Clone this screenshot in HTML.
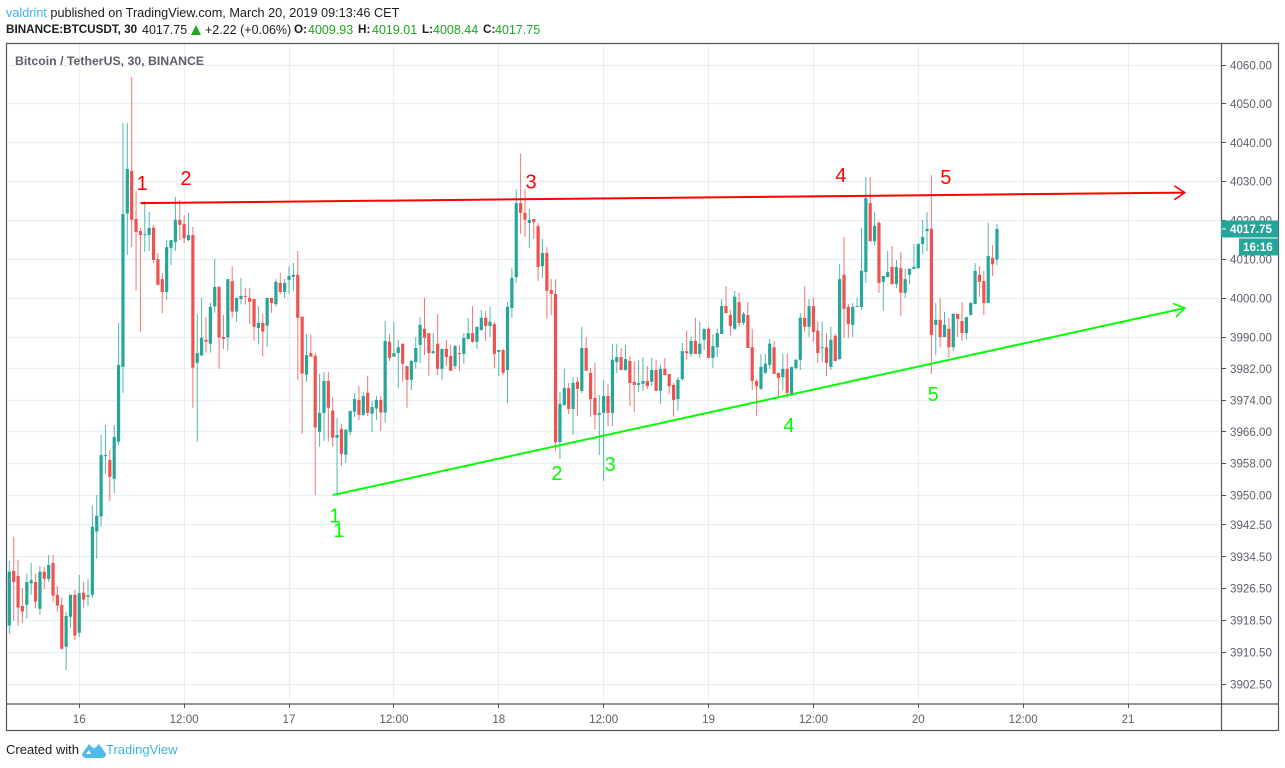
<!DOCTYPE html>
<html lang="en">
<head>
<meta charset="utf-8">
<title>BTCUSDT chart</title>
<style>
html,body{margin:0;padding:0;background:#fff;width:1285px;height:768px;overflow:hidden;font-family:"Liberation Sans",sans-serif}
.t{position:absolute;white-space:nowrap;font-size:12.5px;line-height:16px;color:#1c1c1c}
.b{font-weight:bold;font-size:11.7px}
.g{color:#1fa51f}
svg{position:absolute;left:0;top:0}
</style>
</head>
<body>
<svg id="chart" width="1285" height="768" viewBox="0 0 1285 768" xmlns="http://www.w3.org/2000/svg"></svg>

<div class="t" style="left:6px;top:5px;font-size:12.7px"><span style="color:#3bb3e4">valdrint</span> published on TradingView.com, March 20, 2019 09:13:46 CET</div>
<div class="t b" style="left:6px;top:21.5px">BINANCE:BTCUSDT, 30</div>
<div class="t" style="left:142px;top:21.5px">4017.75</div>
<div style="position:absolute;left:191px;top:24.5px;width:0;height:0;border-left:5.5px solid transparent;border-right:5.5px solid transparent;border-bottom:10px solid #1fa51f"></div>
<div class="t" style="left:205px;top:21.5px">+2.22 (+0.06%)</div>
<div class="t b" style="left:294px;top:21.5px">O:</div>
<div class="t g" style="left:308px;top:21.5px">4009.93</div>
<div class="t b" style="left:358px;top:21.5px">H:</div>
<div class="t g" style="left:372px;top:21.5px">4019.01</div>
<div class="t b" style="left:422px;top:21.5px">L:</div>
<div class="t g" style="left:433px;top:21.5px">4008.44</div>
<div class="t b" style="left:483px;top:21.5px">C:</div>
<div class="t g" style="left:495px;top:21.5px">4017.75</div>

<div class="t" style="left:15px;top:53px;color:#5d606b;font-size:12.3px;font-weight:bold">Bitcoin / TetherUS, 30, BINANCE</div>

<div class="t" style="left:6px;top:742px;font-size:13px">Created with</div>
<svg style="left:82px;top:741px" width="24" height="18" viewBox="0 0 24 18"><path d="M0 13 L7 3 L10 6 Q12 8 14 6 L17 3 L24 13 Q24 17 19 17 L5 17 Q0 17 0 13Z M7 9 L4 13 L9 13Z" fill="#4fb9e8" fill-rule="evenodd"/></svg>
<div class="t" style="left:106px;top:742px;color:#3bb3e4;font-size:13px">TradingView</div>

<script>
const opens = [
3917.2,3930.9,3929.6,3922.1,3922.4,3927.8,3928.1,3921.4,3930.7,3928.9,
3932.9,3924.9,3922.4,3911.9,3919.4,3924.9,3915.4,3925.4,3924.4,3924.9,
3940.8,3944.6,3959.9,3958.9,3954.1,3963.5,3982.5,4021.7,4032.7,4020.3,
4017.2,4016.2,4016.2,4018.1,4010.0,4004.9,4001.6,4012.9,4014.4,4020.1,
4019.0,4014.9,4016.2,3983.5,3985.4,3989.4,3988.4,3997.9,4002.9,3990.1,
3990.0,4004.4,3996.6,3999.8,4000.6,4000.1,3999.8,3992.4,3993.7,3993.0,
4000.1,3998.5,4003.9,4001.6,4004.7,4005.5,4006.0,3995.3,3980.5,3986.0,
3985.3,3966.0,3970.8,3978.9,3971.4,3964.5,3966.7,3960.2,3966.0,3971.1,
3974.1,3970.3,3975.9,3970.6,3971.9,3974.1,3970.9,3988.9,3985.1,3986.0,
3988.4,3982.7,3979.2,3983.7,3988.1,3992.2,3991.1,3986.0,3988.4,3982.0,
3987.1,3985.3,3982.7,3986.0,3985.8,3989.6,3991.1,3988.9,3991.9,3995.0,
3992.9,3993.4,3986.3,3986.8,3981.7,3997.5,4005.4,4024.4,4021.9,4019.3,
4020.3,4018.5,4008.2,4011.6,4002.1,4001.1,3963.4,3972.8,3977.1,3971.8,
3978.7,3976.4,3987.3,3981.0,3974.6,3970.3,3970.8,3975.1,3970.8,3983.7,
3985.0,3981.7,3984.0,3978.7,3977.9,3978.2,3978.9,3978.7,3981.7,3976.4,
3982.0,3980.7,3977.9,3974.3,3979.4,3986.5,3985.8,3989.1,3985.8,3989.4,
3992.2,3984.8,3987.5,3990.9,3998.0,3995.7,3992.2,3999.0,3993.7,3995.7,
3987.5,3978.9,3976.9,3981.0,3983.0,3987.5,3981.0,3979.9,3982.0,3975.4,
3982.2,3984.3,3995.0,3992.7,3998.0,3991.7,3987.3,3987.5,3982.5,3990.4,
3984.5,4006.0,3997.8,3993.2,3997.8,3997.8,4006.7,4024.4,4014.6,4019.3,
4004.2,4005.4,4008.0,4003.6,4007.7,4001.4,4006.0,4007.5,4007.7,4013.9,
4017.2,4017.8,3993.2,3994.5,3990.1,3992.2,3987.5,3996.0,3994.2,3991.1,
3995.7,3998.5,4006.0,4004.4,3998.8,4010.3,4009.93];
const highs = [
3933.4,3939.5,3933.7,3926.6,3930.2,3932.9,3930.2,3932.2,3931.9,3934.9,
3934.9,3927.1,3924.1,3920.6,3924.9,3926.1,3929.9,3928.1,3928.9,3947.3,
3950.0,3965.2,3967.7,3961.4,3967.7,3993.7,4045.1,4045.1,4057.0,4027.5,
4018.0,4024.9,4022.1,4018.8,4011.6,4006.5,4014.9,4014.9,4026.0,4025.2,
4021.3,4021.9,4018.3,3996.0,4000.1,3995.2,3998.8,4010.1,4003.1,3995.7,
4004.9,4008.2,4000.1,4005.2,4002.6,4002.6,3999.8,3998.0,3996.0,4000.1,
4000.1,4004.9,4006.5,4004.9,4008.2,4009.0,4012.1,3995.3,3990.9,3990.7,
3986.0,3980.7,3981.2,3981.2,3974.8,3969.5,3968.0,3966.7,3971.3,3975.8,
3977.6,3976.1,3980.2,3973.8,3975.1,3975.1,3994.2,3990.9,3994.0,3989.4,
3988.4,3982.7,3984.3,3990.1,3995.2,4000.1,3991.1,3991.1,3996.0,3987.1,
3989.4,3988.1,3988.1,3988.1,3991.1,3995.0,3998.0,3992.7,3997.0,3996.8,
3997.8,3994.0,3986.8,3987.1,3999.0,4007.7,4028.0,4037.1,4028.0,4022.9,
4020.3,4019.3,4015.2,4013.1,4004.9,4004.9,3976.1,3982.0,3978.4,3979.9,
3979.9,3992.7,3990.1,3982.2,3983.5,3975.4,3979.2,3978.2,3988.4,3988.4,
3987.3,3988.1,3985.3,3984.0,3984.3,3985.0,3982.7,3984.8,3984.3,3983.0,
3984.8,3980.7,3978.4,3979.9,3988.6,3991.7,3990.1,3995.0,3994.0,3992.2,
3992.7,3990.7,3992.2,3999.8,4003.1,3997.0,4001.9,4001.4,3996.5,3999.0,
3992.2,3979.4,3985.8,3985.8,3989.6,3989.1,3981.0,3985.8,3985.8,3982.5,
3984.5,3996.2,4003.1,3999.8,4000.1,3994.2,3994.0,3991.1,3992.7,3990.9,
4008.7,4015.7,3998.5,3998.8,4000.1,4018.0,4031.1,4031.1,4022.1,4019.8,
4005.7,4012.1,4013.4,4009.8,4011.8,4007.5,4007.7,4013.9,4014.1,4020.1,
4022.1,4031.6,3998.8,4000.1,3996.5,3995.0,3996.2,3996.0,3999.0,3995.2,
3999.0,4009.0,4008.2,4007.0,4019.3,4013.6,4019.01];
const lows = [
3915.1,3918.4,3917.2,3917.9,3918.9,3924.9,3921.5,3919.9,3926.4,3928.1,
3923.2,3920.7,3911.2,3906.1,3916.6,3913.6,3914.4,3921.5,3922.1,3924.1,
3934.0,3942.1,3955.4,3948.5,3950.5,3962.7,3975.9,4011.1,4013.1,4001.9,
3991.4,4011.8,4012.1,4009.0,4003.4,3996.2,3999.6,4008.5,4012.1,4014.9,
4014.1,4014.6,3972.1,3963.5,3985.3,3986.1,3986.1,3996.3,3982.0,3987.1,
3986.6,3995.0,3994.0,3998.4,3998.4,3993.4,3989.2,3988.2,3985.1,3987.6,
3996.3,3997.9,4001.1,4000.1,4001.1,4001.9,3979.2,3965.5,3978.7,3985.1,
3950.0,3962.2,3963.7,3963.5,3962.2,3950.0,3957.4,3958.1,3965.2,3969.8,
3969.0,3970.0,3970.0,3966.0,3969.0,3966.2,3968.3,3984.0,3985.1,3977.1,
3978.7,3972.1,3976.6,3982.0,3983.5,3985.5,3980.2,3985.8,3980.4,3979.2,
3982.7,3981.5,3982.0,3981.5,3983.3,3989.4,3988.6,3987.1,3991.7,3989.1,
3990.1,3982.2,3980.2,3980.4,3973.3,3995.0,4003.9,4016.5,4015.7,4012.9,
4015.2,4004.4,4005.2,3994.7,3995.7,3961.1,3959.1,3972.6,3970.5,3965.2,
3970.0,3975.9,3981.5,3969.8,3966.5,3960.1,3953.6,3967.5,3967.5,3981.0,
3981.7,3981.5,3972.6,3971.0,3976.1,3976.4,3976.9,3977.6,3976.4,3973.1,
3980.4,3975.6,3969.8,3971.3,3978.9,3984.3,3985.0,3985.8,3984.8,3986.8,
3984.8,3982.2,3985.0,3990.9,3996.2,3990.4,3991.9,3992.7,3993.2,3987.3,
3976.6,3970.0,3976.6,3980.7,3982.0,3980.7,3974.6,3976.6,3974.6,3975.1,
3981.7,3981.7,3991.4,3990.1,3988.9,3983.5,3983.7,3980.2,3981.7,3984.0,
3984.3,3989.9,3989.9,3990.1,3997.8,3997.0,4003.9,4014.6,4013.6,4001.4,
3996.8,4005.4,4003.6,4002.6,3995.5,4000.1,4003.6,4007.5,4007.5,4011.3,
4012.1,3980.7,3985.5,3987.5,3990.1,3984.8,3986.5,3990.1,3989.1,3989.4,
3995.7,3998.5,4000.4,3995.7,3998.8,4005.7,4008.44];
const closes = [
3930.7,3928.1,3921.7,3920.7,3928.1,3928.6,3923.2,3930.7,3928.9,3932.4,
3924.7,3922.2,3911.4,3919.6,3924.9,3914.7,3925.3,3923.7,3924.8,3942.0,
3944.8,3960.1,3960.1,3954.6,3964.7,3983.0,4021.6,4033.2,4020.1,4017.0,
4016.2,4016.4,4018.0,4009.8,4003.4,4001.6,4013.1,4014.9,4020.1,4018.8,
4015.4,4016.2,3982.3,3986.0,3989.9,3988.9,3997.8,4002.9,3990.0,3989.6,
4004.9,3996.6,4000.1,4000.6,4000.4,3999.1,3992.7,3993.7,3991.5,4000.1,
3998.8,4004.2,4001.6,4003.9,4005.7,4006.0,3995.0,3980.8,3985.5,3985.1,
3967.1,3970.8,3978.9,3972.1,3964.5,3965.2,3960.4,3966.5,3971.3,3974.3,
3970.3,3975.1,3970.8,3972.3,3974.1,3970.9,3989.1,3984.8,3986.0,3987.5,
3983.3,3979.2,3984.0,3987.3,3993.2,3989.9,3986.0,3986.5,3982.0,3987.1,
3985.0,3981.5,3987.8,3985.8,3989.9,3991.1,3988.9,3992.7,3995.0,3992.9,
3994.0,3985.8,3986.8,3981.0,3997.8,4005.2,4024.4,4021.9,4020.1,4020.1,
4019.5,4008.0,4011.6,4001.9,4001.1,3963.4,3973.1,3977.1,3971.8,3978.4,
3976.9,3987.3,3981.5,3974.3,3970.3,3970.8,3975.1,3970.8,3984.3,3985.0,
3981.7,3984.5,3978.4,3977.9,3978.4,3978.9,3977.6,3981.7,3976.4,3982.0,
3980.4,3977.6,3974.1,3979.2,3986.5,3986.0,3989.1,3985.8,3988.4,3992.2,
3984.8,3987.8,3991.1,3998.0,3996.2,3992.9,4000.4,3993.7,3996.0,3987.3,
3978.9,3977.6,3982.5,3983.3,3988.4,3980.7,3979.7,3982.0,3975.9,3982.5,
3984.3,3995.0,3992.7,3998.0,3991.4,3986.0,3987.5,3983.5,3989.4,3984.0,
4004.9,3997.3,3993.4,3997.8,3998.0,4007.0,4025.7,4014.6,4018.5,4003.9,
4005.7,4006.7,4003.6,4008.0,4001.4,4004.9,4007.5,4008.0,4013.9,4015.7,
4017.8,3990.6,3994.5,3990.1,3993.2,3987.5,3996.0,3994.7,3991.1,3995.2,
3998.8,4007.0,4004.2,3998.8,4010.8,4008.7,4017.75];

const priceTickLabels = ["4060.00","4050.00","4040.00","4030.00","4020.00","4010.00","4000.00","3990.00","3982.00","3974.00","3966.00","3958.00","3950.00","3942.50","3934.50","3926.50","3918.50","3910.50","3902.50"];
const timeTickLabels = ["16","12:00","17","12:00","18","12:00","19","12:00","20","12:00","21"];
const timeTickBars = [16,40,64,88,112,136,160,184,208,232,256];

const resistanceBars = [30,269];
const resistancePrices = [4024.4,4027.1];
const supportBars = [74,269];
const supportPrices = [3950,3997.5];

const redMarkText = ["1","2","3","4","5"];
const redMarkBars = [30.4,40.4,119.4,190.3,214.3];
const redMarkPrices = [4029.6,4030.9,4029.9,4031.6,4031.1];
const greenMarkText = ["1","1","2","3","4","5"];
const greenMarkBars = [74.5,75.4,125.3,137.5,178.4,211.4];
const greenMarkPrices = [3944.8,3941.2,3955.6,3957.9,3967.7,3975.6];

const lastPrice = "4017.75";
const countdown = "16:16";

const NS = "http://www.w3.org/2000/svg";
const svg = document.getElementById("chart");
const xAxis = i => 9.33 + 4.37 * i;
const yAxis = p => 65.3 + 15647 * Math.log(4060 / p);
const snap = v => Math.round(v) + 0.5;

function make(tag, attrs, parent, text) {
  const el = document.createElementNS(NS, tag);
  for (const k in attrs) el.setAttribute(k, attrs[k]);
  if (text !== undefined) el.textContent = text;
  (parent || svg).appendChild(el);
  return el;
}

const gridColor = "#e8f0f5";
const frameColor = "#50535e";
const textColor = "#5d606b";
const UP = "#26a69a";
const DOWN = "#ef5350";

// grid
const gridG = make("g", {});


priceTickLabels.forEach(l => {
  const y = snap(yAxis(parseFloat(l)) - 0.5);
  const ln = make("line", {x1: 7, x2: 1221, y1: y, y2: y, stroke: gridColor, "stroke-width": 1.2}, gridG);
  
  
});
timeTickBars.forEach(b => {
  const x = snap(xAxis(b) - 0.5);
  const ln = make("line", {x1: x, x2: x, y1: 44, y2: 704, stroke: gridColor, "stroke-width": 1.2}, gridG);
  
  
});

// candles
const candleG = make("g", {});


closes.forEach((c, i) => {
  const o = opens[i], h = highs[i], l = lows[i];
  const col = c >= o ? UP : DOWN;
  const x = xAxis(i);
  const g = make("g", {}, candleG);
  
  
  make("line", {x1: x, x2: x, y1: yAxis(h), y2: yAxis(l), stroke: col, "stroke-width": 1, "stroke-opacity": 0.8}, g);
  const top = yAxis(Math.max(o, c)), bot = yAxis(Math.min(o, c));
  make("rect", {x: x - 1.6, y: top, width: 3.2, height: Math.max(1, bot - top), fill: col}, g);
});

// trend lines
function arrow(name, bars, prices, color) {
  const g = make("g", {});
  
  
  const x1 = xAxis(bars[0]), y1 = yAxis(prices[0]), x2 = xAxis(bars[1]), y2 = yAxis(prices[1]);
  make("line", {x1: x1, y1: y1, x2: x2, y2: y2, stroke: color, "stroke-width": 2}, g);
  const a = Math.atan2(y2 - y1, x2 - x1);
  const head = [a + Math.PI - 0.58, a + Math.PI + 0.58];
  head.forEach(t => {
    make("line", {x1: x2, y1: y2, x2: x2 + 12 * Math.cos(t), y2: y2 + 12 * Math.sin(t), stroke: color, "stroke-width": 1.6, "stroke-linecap": "round"}, g);
  });
}
arrow("resistance-trend-line", resistanceBars, resistancePrices, "#ff0000");
arrow("support-trend-line", supportBars, supportPrices, "#00ff00");

// numbered touch marks
function marks(name, texts, bars, prices, color) {
  texts.forEach((t, i) => {
    const el = make("text", {x: xAxis(bars[i]), y: yAxis(prices[i]) + 7, "text-anchor": "middle", "font-size": 20, "font-family": '"Liberation Sans",sans-serif', fill: color}, svg, t);
    
    
  });
}
marks("resistance-touch-label", redMarkText, redMarkBars, redMarkPrices, "#ff0000");
marks("support-touch-label", greenMarkText, greenMarkBars, greenMarkPrices, "#00ff00");

// frame
const frame = make("rect", {x: 6.5, y: 43.5, width: 1272, height: 687, fill: "none", stroke: frameColor, "stroke-width": 1.2});


const timeLine = make("line", {x1: 6.5, x2: 1278.5, y1: 704, y2: 704, stroke: frameColor, "stroke-width": 1.2});


const priceLine = make("line", {x1: 1221.5, x2: 1221.5, y1: 43.5, y2: 730.5, stroke: frameColor, "stroke-width": 1.2});



// price axis
const priceAxis = make("g", {});


priceTickLabels.forEach(l => {
  const y = yAxis(parseFloat(l));
  make("line", {x1: 1222, x2: 1226, y1: snap(y - 0.5), y2: snap(y - 0.5), stroke: frameColor}, priceAxis);
  const t = make("text", {x: 1230, y: y + 4.2, "font-size": 11.6, "font-family": '"Liberation Sans",sans-serif', fill: textColor}, priceAxis, l);
  
  
});

// time axis
const timeAxis = make("g", {});


timeTickBars.forEach((b, i) => {
  const x = xAxis(b);
  make("line", {x1: snap(x - 0.5), x2: snap(x - 0.5), y1: 704, y2: 708, stroke: frameColor}, timeAxis);
  const t = make("text", {x: x, y: 723, "text-anchor": "middle", "font-size": 11.6, "font-family": '"Liberation Sans",sans-serif', fill: textColor}, timeAxis, timeTickLabels[i]);
  
  
});

// last price tag and countdown
const lastY = yAxis(parseFloat(lastPrice));
const tag = make("g", {});


make("rect", {x: 1221, y: lastY - 8.5, width: 57.5, height: 17, fill: UP}, tag);
make("line", {x1: 1222, x2: 1226, y1: lastY, y2: lastY, stroke: "#fff"}, tag);
make("text", {x: 1230, y: lastY + 4.2, "font-size": 11.6, "font-weight": "bold", "font-family": '"Liberation Sans",sans-serif', fill: "#fff"}, tag, lastPrice);
const timer = make("g", {});


make("rect", {x: 1239, y: lastY + 9.5, width: 39.5, height: 17, fill: UP}, timer);
make("text", {x: 1243, y: lastY + 22.2, "font-size": 11.6, "font-weight": "bold", "font-family": '"Liberation Sans",sans-serif', fill: "#fff"}, timer, countdown);
</script>
</body>
</html>
